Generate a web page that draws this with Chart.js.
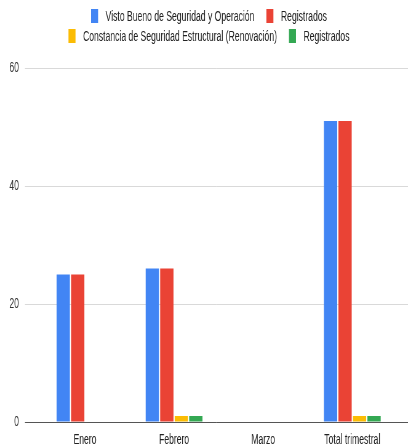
<!DOCTYPE html>
<html>
<head>
<meta charset="utf-8">
<script src="https://cdn.jsdelivr.net/npm/chart.js@4/dist/chart.umd.min.js"></script>
<style>
html,body{margin:0;padding:0;background:#fff;overflow:hidden;}
#wrap{width:408px;height:445px;position:relative;overflow:hidden;}
#c{position:absolute;left:0;top:0;transform:scaleX(0.61538);transform-origin:0 0;display:block;}
</style>
</head>
<body>
<div id="wrap"><canvas id="c" width="663" height="445"></canvas></div>
<script>
const categories = ["Enero", "Febrero", "Marzo", "Total trimestral"];
const seriesNames = ["Visto Bueno de Seguridad y Operación", "Registrados", "Constancia de Seguridad Estructural (Renovación)", "Registrados"];
const vistoBueno = [25, 26, 0, 51];
const vistoBuenoRegistrados = [25, 26, 0, 51];
const constancia = [0, 1, 0, 1];
const constanciaRegistrados = [0, 1, 0, 1];
const yTicks = [0, 20, 40, 60];
const colors = ["#4285F4", "#EA4335", "#FBBC04", "#34A853"];

const FONT = '"Liberation Sans", Arial, sans-serif';
Chart.defaults.font.family = FONT;

const gridPlugin = {
  id: 'gridPlugin',
  beforeDatasetsDraw(chart) {
    const ctx = chart.ctx, y = chart.scales.y;
    ctx.save();
    ctx.strokeStyle = '#d9d9d9';
    ctx.lineWidth = 1;
    yTicks.forEach(v => {
      if (v === 0) return;
      const py = Math.round(y.getPixelForValue(v)) + 0.5;
      ctx.beginPath(); ctx.moveTo(40.6, py); ctx.lineTo(663, py); ctx.stroke();
    });
    ctx.restore();
  },
  afterDatasetsDraw(chart) {
    const ctx = chart.ctx, y = chart.scales.y;
    ctx.save();
    ctx.strokeStyle = '#555';
    ctx.lineWidth = 1;
    const py = Math.round(y.getPixelForValue(0)) + 0.5;
    ctx.beginPath(); ctx.moveTo(40.6, py); ctx.lineTo(663, py); ctx.stroke();
    ctx.restore();
  }
};

const legendPlugin = {
  id: 'customLegend',
  afterDraw(chart) {
    const ctx = chart.ctx;
    const ds = chart.data.datasets;
    const rows = [[0, 1], [2, 3]];
    const rowY = [16, 36];
    const centerX = 339.6, boxW = 11.4, boxH = 14, gap = 12.2, itemGap = 19.5;
    ctx.save();
    ctx.font = '14px ' + FONT;
    ctx.textBaseline = 'middle';
    ctx.textAlign = 'left';
    rows.forEach((r, ri) => {
      const widths = r.map(i => boxW + gap + ctx.measureText(ds[i].label).width);
      const total = widths.reduce((a, b) => a + b, 0) + itemGap * (r.length - 1);
      let x = centerX - total / 2;
      r.forEach((i, k) => {
        ctx.fillStyle = ds[i].backgroundColor;
        ctx.fillRect(x, rowY[ri] - boxH / 2, boxW, boxH);
        ctx.fillStyle = '#222';
        ctx.fillText(ds[i].label, x + boxW + gap, rowY[ri] + 1);
        x += widths[k] + itemGap;
      });
    });
    ctx.restore();
  }
};

const seriesData = [vistoBueno, vistoBuenoRegistrados, constancia, constanciaRegistrados];

new Chart(document.getElementById('c'), {
  type: 'bar',
  data: {
    labels: categories,
    datasets: seriesData.map((d, i) => ({
      label: seriesNames[i],
      data: d,
      backgroundColor: colors[i],
      borderWidth: 0,
      categoryPercentage: 0.651,
      barPercentage: 0.917
    }))
  },
  options: {
    responsive: false,
    animation: false,
    devicePixelRatio: 1,
    layout: { padding: { top: 68, right: 18.1, left: 0, bottom: 0 } },
    plugins: { legend: { display: false }, tooltip: { enabled: false } },
    scales: {
      x: {
        grid: { display: false, drawTicks: false },
        border: { display: false },
        ticks: { color: '#222', font: { size: 14 }, padding: 10, maxRotation: 0, autoSkip: false },
        afterFit(s) { s.height = 23; }
      },
      y: {
        min: 0, max: 60,
        afterBuildTicks(s) { s.ticks = yTicks.map(v => ({ value: v })); },
        grid: { display: true, drawOnChartArea: false, drawTicks: true, tickLength: 30, color: 'rgba(0,0,0,0)' },
        border: { display: false },
        ticks: { color: '#333', font: { size: 14 }, padding: 4.8 },
        afterFit(s) { s.width = 65.7; }
      }
    }
  },
  plugins: [gridPlugin, legendPlugin]
});
</script>
</body>
</html>
